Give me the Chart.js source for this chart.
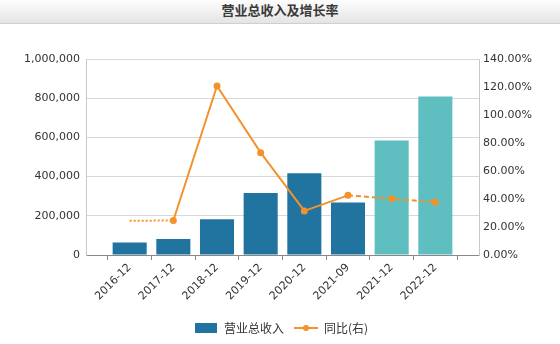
<!DOCTYPE html>
<html>
<head>
<meta charset="utf-8">
<script src="https://cdn.jsdelivr.net/npm/chart.js@4/dist/chart.umd.min.js"></script>
<style>
  html, body { margin: 0; padding: 0; background: #fff; }
  #titleBar {
    width: 560px; height: 23px; line-height: 23px;
    background: linear-gradient(#fdfdfd, #e4e4e4);
    border-bottom: 1px solid #cfcfcf;
    text-align: center;
    font: bold 13px "Noto Sans CJK SC", sans-serif;
    color: #3a3a3a;
  }
  #wrap { width: 560px; height: 320px; position: relative; }
</style>
</head>
<body>
<div id="titleBar">营业总收入及增长率</div>
<div id="wrap"><canvas id="chart" width="560" height="320"></canvas></div>
<script>
// periods on the x axis
const categories = ['2016-12', '2017-12', '2018-12', '2019-12', '2020-12', '2021-09', '2021-12', '2022-12'];
// total operating revenue (left axis)
const revenue = [64000, 82000, 182000, 316000, 417000, 268000, 584000, 809000];
// year-on-year growth in % (right axis)
const growth = [24.5, 24.6, 120.7, 73.1, 31.5, 42.6, 40.2, 37.7];
// forecast periods get the lighter colour
const isForecast = [false, false, false, false, false, false, true, true];

const barColor = '#21749f';
const forecastColor = '#5fbebf';
const lineColor = '#f3922a';

// one empty slot at each end, the axis leaves that much room around the bars
const labels = ['', ...categories, ''];
const barData = [null, ...revenue, null];
const lineData = [null, ...growth, null];
const barColors = [null, ...isForecast.map(f => f ? forecastColor : barColor), null];
const pointRadii = lineData.map((v, i) => i <= 1 ? 0 : 3.5);

// legend swatches
function swatchBox() {
    const c = document.createElement('canvas');
    c.width = 22; c.height = 10;
    const g = c.getContext('2d');
    g.fillStyle = barColor;
    g.fillRect(0, 0, 22, 10);
    return c;
}
function swatchLine() {
    const c = document.createElement('canvas');
    c.width = 24; c.height = 8;
    const g = c.getContext('2d');
    g.strokeStyle = lineColor;
    g.lineWidth = 2;
    g.beginPath(); g.moveTo(0, 4); g.lineTo(24, 4); g.stroke();
    g.fillStyle = lineColor;
    g.beginPath(); g.arc(12, 4, 3, 0, Math.PI * 2); g.fill();
    return c;
}
const swatches = [swatchBox(), swatchLine()];

const txt = '#333';
const tickFont = { family: 'DejaVu Sans', size: 11 };

new Chart(document.getElementById('chart').getContext('2d'), {
    type: 'bar',
    data: {
        labels: labels,
        datasets: [
            {
                type: 'line',
                label: '同比(右)',
                data: lineData,
                yAxisID: 'y1',
                borderColor: lineColor,
                backgroundColor: lineColor,
                borderWidth: 2,
                pointRadius: pointRadii,
                pointHoverRadius: pointRadii,
                pointBorderWidth: 0,
                tension: 0,
                order: 0,
                segment: {
                    // first segment dotted, forecast part dashed
                    borderDash: ctx => ctx.p0DataIndex === 1 ? [2, 2]
                        : ctx.p0DataIndex >= categories.indexOf('2021-09') + 1 ? [5, 3] : undefined
                }
            },
            {
                type: 'bar',
                label: '营业总收入',
                data: barData,
                yAxisID: 'y',
                backgroundColor: barColors,
                categoryPercentage: 0.78,
                barPercentage: 1,
                order: 1
            }
        ]
    },
    options: {
        responsive: false,
        animation: false,
        layout: { padding: { left: 22, right: 20, top: 35, bottom: 0 } },
        scales: {
            x: {
                offset: false,
                grid: { drawOnChartArea: false, drawTicks: true, tickLength: 5, color: '#888' },
                border: { color: '#888' },
                ticks: { color: txt, font: tickFont, minRotation: 45, maxRotation: 45, autoSkip: false, padding: 1 },
                afterFit: s => { s.height = 57; }
            },
            y: {
                position: 'left',
                min: 0, max: 1000000,
                grid: { color: '#d8d8d8', drawTicks: false },
                border: { color: '#c8c8c8' },
                ticks: {
                    stepSize: 200000, color: txt, font: tickFont, padding: 6,
                    callback: v => v.toLocaleString('en-US')
                },
                afterFit: s => { s.width = 64; }
            },
            y1: {
                position: 'right',
                min: 0, max: 140,
                grid: { drawOnChartArea: false, drawTicks: false },
                border: { color: '#c8c8c8' },
                ticks: {
                    stepSize: 20, color: txt, font: tickFont, padding: 4,
                    callback: v => v.toFixed(2) + '%'
                },
                afterFit: s => { s.width = 61; }
            }
        },
        plugins: {
            legend: {
                position: 'bottom',
                reverse: false,
                labels: {
                    usePointStyle: true,
                    pointStyleWidth: 24,
                    boxHeight: 10,
                    padding: 10,
                    color: txt,
                    font: { family: 'Noto Sans CJK SC', size: 12 },
                    sort: (a, b) => b.datasetIndex - a.datasetIndex,
                    generateLabels: chart => chart.data.datasets.map((ds, i) => ({
                        text: ds.label,
                        datasetIndex: i,
                        pointStyle: swatches[ds.type === 'bar' ? 0 : 1],
                        fontColor: txt,
                        lineWidth: 0,
                        hidden: false
                    }))
                }
            },
            tooltip: { enabled: false },
            title: { display: false }
        }
    }
});
</script>
</body>
</html>
